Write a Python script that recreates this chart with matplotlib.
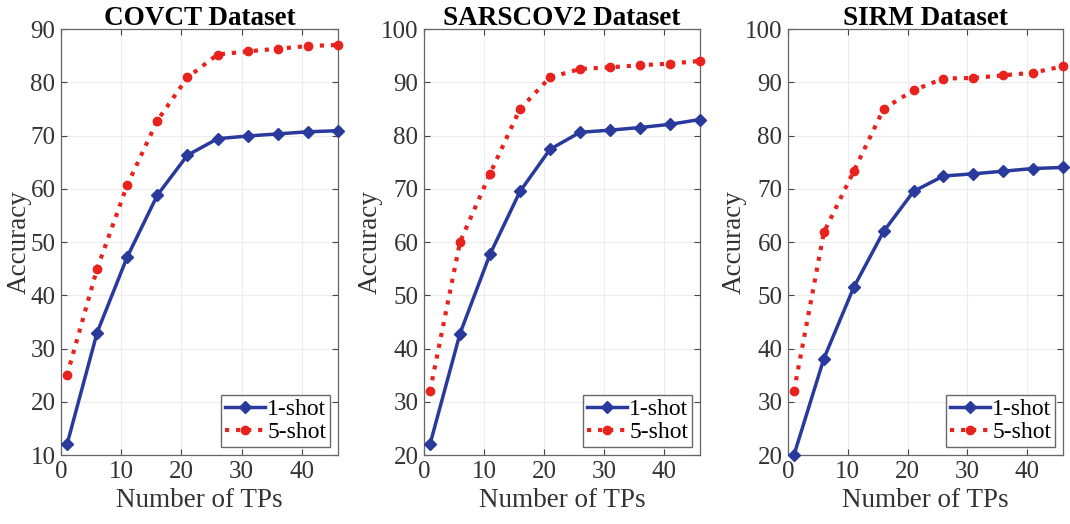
import matplotlib
matplotlib.use("Agg")
import matplotlib.pyplot as plt

x_tps = [1, 6, 11, 16, 21, 26, 31, 36, 41, 46]

titles = ["COVCT Dataset", "SARSCOV2 Dataset", "SIRM Dataset"]

covct_1shot = [12, 33, 47.2, 58.8, 66.3, 69.4, 69.9, 70.3, 70.7, 70.9]
covct_5shot = [25, 45, 60.7, 72.8, 80.9, 85.2, 85.8, 86.3, 86.8, 87.0]

sars_1shot = [22, 42.8, 57.7, 69.5, 77.4, 80.6, 81.0, 81.5, 82.1, 83.0]
sars_5shot = [32, 60, 72.8, 85, 90.9, 92.5, 92.8, 93.2, 93.5, 94.0]

sirm_1shot = [20, 38.1, 51.5, 62, 69.5, 72.4, 72.8, 73.3, 73.8, 74.0]
sirm_5shot = [32, 61.8, 73.3, 85, 88.5, 90.7, 90.8, 91.3, 91.8, 93.0]

ylims = [(10, 90), (20, 100), (20, 100)]
series = [(covct_1shot, covct_5shot), (sars_1shot, sars_5shot), (sirm_1shot, sirm_5shot)]

plt.rcParams['font.family'] = ['Liberation Serif', 'DejaVu Serif']

fig = plt.figure(figsize=(10.7, 5.24), dpi=100)
W, H = 1070, 524
lefts = [61, 424, 788]
rights = [338, 700, 1063]
top, bottom = 29, 455

blue = '#2a3a9c'
red = '#e8231e'

for i in range(3):
    ax = fig.add_axes([lefts[i] / W, 1 - bottom / H, (rights[i] - lefts[i]) / W, (bottom - top) / H])
    s1, s5 = series[i]
    ax.plot(x_tps, s1, '-', color=blue, lw=2.5, marker='D', ms=6, label='1-shot', clip_on=False, zorder=3)
    ax.plot(x_tps, s5, ':', color=red, lw=3, marker='o', ms=6, label='5-shot', clip_on=False, zorder=3)
    ax.set_xlim(0, 46)
    ax.set_ylim(*ylims[i])
    ax.set_xticks([0, 10, 20, 30, 40])
    ax.set_yticks(range(ylims[i][0], ylims[i][1] + 1, 10))
    ax.grid(True, color='#ececec', lw=0.8)
    ax.set_axisbelow(True)
    ax.tick_params(direction='in', top=True, right=True, labelsize=18, length=4, color='#444444',
                   labelcolor='#333333', pad=4)
    for sp in ax.spines.values():
        sp.set_color('#666666')
        sp.set_linewidth(0.9)
    ax.set_title(titles[i], fontsize=19.5, fontweight='bold', pad=3)
    ax.set_xlabel('Number of TPs', fontsize=19.5, color='#333333', labelpad=4)
    ax.set_ylabel('Accuracy', fontsize=19.5, color='#333333', labelpad=-1)
    leg = ax.legend(loc='lower right', fontsize=17, frameon=True, fancybox=False,
                    borderpad=0.15, handlelength=1.7, handletextpad=0.1, labelspacing=0.05,
                    borderaxespad=0.35)
    leg.get_frame().set_edgecolor('#444444')
    leg.get_frame().set_linewidth(1.0)

fig.savefig('out.png', dpi=100)
